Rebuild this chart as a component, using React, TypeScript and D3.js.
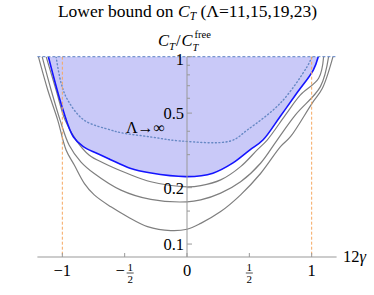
import * as d3 from "d3";

// 12γ vs lower bound on C_T / C_T^free
const bound11: [number, number][] = [
  [-1.192, 1], [-1.117, 0.664], [-1.037, 0.459], [-0.97, 0.318], [-0.904, 0.264],
  [-0.824, 0.211], [-0.744, 0.183], [-0.61, 0.158], [-0.477, 0.14], [-0.317, 0.124],
  [-0.13, 0.118], [0, 0.12], [0.11, 0.129], [0.27, 0.149], [0.43, 0.183],
  [0.59, 0.238], [0.75, 0.331], [0.83, 0.374], [1.003, 0.564], [1.086, 0.678], [1.171, 1],
];
const bound15: [number, number][] = [
  [-1.162, 1], [-1.09, 0.664], [-1.018, 0.459], [-0.946, 0.338], [-0.85, 0.274],
  [-0.744, 0.238], [-0.53, 0.194], [-0.29, 0.173], [0, 0.168], [0.11, 0.172],
  [0.27, 0.187], [0.43, 0.215], [0.59, 0.27], [0.723, 0.359], [0.87, 0.489],
  [1.07, 0.692], [1.136, 1],
];
const bound19: [number, number][] = [
  [-1.13, 1], [-1.05, 0.664], [-0.978, 0.459], [-0.89, 0.359], [-0.786, 0.299],
  [-0.666, 0.27], [-0.477, 0.238], [-0.29, 0.215], [0, 0.202], [0.11, 0.205],
  [0.27, 0.22], [0.43, 0.259], [0.563, 0.318], [0.643, 0.359], [0.79, 0.489],
  [0.91, 0.625], [1.056, 0.767], [1.096, 1],
];
const bound23: [number, number][] = [
  [-1.112, 1], [-0.994, 0.519], [-0.912, 0.374], [-0.832, 0.331], [-0.724, 0.305],
  [-0.617, 0.283], [-0.457, 0.254], [-0.3, 0.24], [0, 0.229], [0.208, 0.239],
  [0.369, 0.271], [0.505, 0.318], [0.609, 0.359], [0.746, 0.478], [0.88, 0.638],
  [1.013, 0.849], [1.053, 1],
];
const boundInf: [number, number][] = [
  [-1.05, 1], [-1.01, 0.724], [-0.957, 0.587], [-0.826, 0.459], [-0.61, 0.406],
  [-0.53, 0.393], [-0.29, 0.373], [-0.05, 0.355], [0.35, 0.355], [0.483, 0.406],
  [0.75, 0.566], [0.963, 0.884], [1.003, 1],
];
const grayBounds = [bound11, bound15, bound19];

const xTicks = [-1, -0.5, 0, 0.5, 1];
const yMajor = [0.1, 0.2, 0.5, 1];
const yMinor = [0.15, 0.3, 0.4, 0.6, 0.7, 0.8, 0.9];
const yLabels = ["0.1", "0.2", "0.5", "1"];

const W = 374;
const H = 295;
const serif = "'Liberation Serif', 'Times New Roman', serif";

export default function App() {
  const x = d3.scaleLinear().domain([-1.2, 1.2]).range([37.4, 336.6]);
  const y = d3.scaleLog().domain([0.0853, 1]).range([257, 56.7]);

  const line = d3
    .line<[number, number]>()
    .x((d) => x(d[0]))
    .y((d) => y(d[1]))
    .curve(d3.curveCatmullRom.alpha(0.5));
  const area = d3
    .area<[number, number]>()
    .x((d) => x(d[0]))
    .y0(y(1))
    .y1((d) => y(d[1]))
    .curve(d3.curveCatmullRom.alpha(0.5));

  const x0 = x(0);
  const yBase = y.range()[0];

  return (
    <svg
      width={W}
      height={H}
      style={{ position: "absolute", left: 0, top: 0, background: "#fff" }}
      fontFamily={serif}
    >
      <defs>
        <clipPath id="plot">
          <rect x={x(-1.2)} y={y(1)} width={x(1.2) - x(-1.2)} height={yBase - y(1)} />
        </clipPath>
      </defs>

      {/* title */}
      <text x={187.5} y={17} textAnchor="middle" fontSize={17.5}>
        Lower bound on <tspan fontStyle="italic">C</tspan>
        <tspan fontStyle="italic" fontSize={11.5} dy={3}>T</tspan>
        <tspan dy={-3}> (Λ=11,15,19,23)</tspan>
      </text>

      <g clipPath="url(#plot)">
        <path d={area(bound23) ?? ""} fill="#c9c9f8" />
        {grayBounds.map((b, i) => (
          <path key={i} d={line(b) ?? ""} fill="none" stroke="#7f7f7f" strokeWidth={1.2} />
        ))}
        <path
          d={line(boundInf) ?? ""}
          fill="none"
          stroke="#6688c4"
          strokeWidth={1.4}
          strokeDasharray="1,2.6"
          strokeLinecap="round"
        />
        <path d={line(bound23) ?? ""} fill="none" stroke="#1414ff" strokeWidth={1.6} />
      </g>

      {/* orange guides at 12γ = ±1 */}
      {[-1, 1].map((v) => (
        <line
          key={v}
          x1={x(v)}
          x2={x(v)}
          y1={y(1)}
          y2={yBase}
          stroke="#f6a860"
          strokeWidth={1}
          strokeDasharray="3,2"
        />
      ))}

      {/* C_T = free line */}
      <line
        x1={x(-1.2)}
        x2={x(1.2)}
        y1={y(1)}
        y2={y(1)}
        stroke="#5b7fc4"
        strokeWidth={1}
        strokeDasharray="3,2"
      />

      {/* axes */}
      <line x1={x(-1.2)} x2={x(1.2)} y1={yBase} y2={yBase} stroke="#999" strokeWidth={1} />
      <line x1={x0} x2={x0} y1={yBase} y2={y(1)} stroke="#999" strokeWidth={1} />
      {xTicks.map((t) => (
        <line key={t} x1={x(t)} x2={x(t)} y1={yBase} y2={yBase - 4} stroke="#999" />
      ))}
      {yMajor.map((t) => (
        <line key={t} x1={x0} x2={x0 + 5} y1={y(t)} y2={y(t)} stroke="#999" />
      ))}
      {yMinor.map((t) => (
        <line key={t} x1={x0} x2={x0 + 3} y1={y(t)} y2={y(t)} stroke="#999" />
      ))}

      {/* y tick labels */}
      {yMajor.map((t, i) => (
        <text
          key={t}
          x={x0 - 3}
          y={y(t) + (t === 1 ? 8 : 6)}
          textAnchor="end"
          fontSize={16.5}
        >
          {yLabels[i]}
        </text>
      ))}

      {/* x tick labels */}
      <text x={x(-1)} y={276} textAnchor="middle" fontSize={16.5}>−1</text>
      <text x={x(0)} y={276} textAnchor="middle" fontSize={16.5}>0</text>
      <text x={x(1)} y={276} textAnchor="middle" fontSize={16.5}>1</text>
      {[-0.5, 0.5].map((t) => {
        const fx = t < 0 ? x(t) + 5.5 : x(t);
        return (
          <g key={t}>
            {t < 0 && (
              <text x={x(t) - 4.5} y={276} textAnchor="middle" fontSize={16.5}>−</text>
            )}
            <text x={fx} y={270.5} textAnchor="middle" fontSize={11}>1</text>
            <line x1={fx - 3.5} x2={fx + 3.5} y1={273} y2={273} stroke="#000" strokeWidth={0.7} />
            <text x={fx} y={283} textAnchor="middle" fontSize={11}>2</text>
          </g>
        );
      })}

      {/* axis labels */}
      <text x={343} y={262} fontSize={16.5}>
        12<tspan fontStyle="italic">γ</tspan>
      </text>
      <text x={158} y={46.3} fontSize={16.5} fontStyle="italic">C</text>
      <text x={169} y={50} fontSize={11} fontStyle="italic">T</text>
      <text x={176} y={46.3} fontSize={16.5}>/</text>
      <text x={181.5} y={46.3} fontSize={16.5} fontStyle="italic">C</text>
      <text x={192.5} y={50.5} fontSize={10.5} fontStyle="italic">T</text>
      <text x={194.5} y={38} fontSize={10.5}>free</text>

      <text x={126} y={132.5} fontSize={16}>Λ→∞</text>
    </svg>
  );
}
